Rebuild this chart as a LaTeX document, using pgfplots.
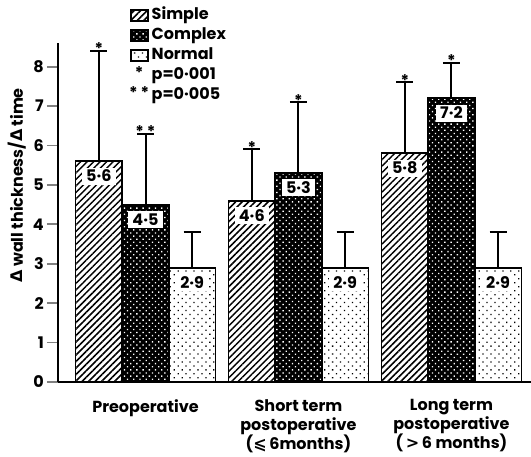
\documentclass[border=0pt]{standalone}
\usepackage{fontspec}
\setmainfont{Poppins}
\newfontfamily\dejavu{DejaVu Sans}
\usepackage{pgfplots}
\usepackage{pgfplotstable}
\pgfplotsset{compat=1.18}
\usetikzlibrary{patterns,patterns.meta}
\newcommand\lf{\fontsize{16bp}{19bp}\selectfont\bfseries}

\pgfplotstableread{
x  sv  se  sl   sst  cv  ce  cl   cst               nv  ne  nl
0  5.6 2.8 5·6  *    4.5 1.8 4·5  *\kern3bp*        2.9 0.9 2·9
1  4.6 1.3 4·6  *    5.3 1.8 5·3  *                 2.9 0.9 2·9
2  5.8 1.8 5·8  *    7.2 0.9 7·2  *                 2.9 0.9 2·9
}\data

\tikzset{
  simplepat/.style={fill=white, postaction={pattern={Lines[angle=45,distance=4.6bp,line width=1.5bp]}, pattern color=black}},
  complexpat/.style={fill=black, postaction={pattern={Dots[angle=45,distance=4.4bp,radius=0.95bp]}, pattern color=white}},
  normalpat/.style={fill=white, postaction={pattern={Dots[angle=45,distance=5.6bp,radius=0.9bp]}, pattern color=black}},
}
\pgfplotsset{
  barlegend/.style={legend image code/.code={\draw[##1] (0bp,-5.5bp) rectangle (17bp,5.5bp);}},
  starlegend/.style={legend image code/.code={\node[font=\lf, inner sep=0pt, anchor=base] at (8.5bp,-3bp) {#1};}},
  barvals/.style={nodes near coords, point meta=explicit symbolic,
    every node near coord/.style={font=\lf, fill=white, inner xsep=4bp, inner ysep=3bp, text height=11bp, text depth=0pt, anchor=north, yshift=-5.5bp}},
  stars/.style={draw=none, mark=none, forget plot, nodes near coords, point meta=explicit symbolic,
    every node near coord/.style={font=\lf, anchor=base, inner sep=0pt, yshift=-4bp}},
}

\begin{document}
\begin{tikzpicture}
\begin{axis}[
  scale only axis, width=473bp, height=339bp,
  at={(0,0)}, anchor=south west,
  xmin=-0.572, xmax=2.52, ymin=0, ymax=8.6,
  axis x line=bottom, axis y line=left,
  axis line style={-, line width=2bp},
  xtick={0,1,2},
  xticklabels={Preoperative, {Short term\\postoperative\\({\dejavu\bfseries ⩽}\,6months)}, {Long term\\postoperative\\(\,{\dejavu\bfseries >}\,6 months)}},
  xticklabel style={align=center, font=\lf, anchor=north, inner sep=0pt, yshift=-6bp},
  xtick style={draw=none},
  ytick={0,1,...,8},
  ytick style={line width=1.8bp},
  major tick length=11bp,
  tick align=outside,
  yticklabel style={font=\lf, inner sep=0pt, xshift=-3bp},
  /pgf/number format/assume math mode=true,
  ylabel={{\dejavu\bfseries Δ} wall thickness/{\dejavu\bfseries Δ} time},
  ylabel style={font=\lf, at={(axis description cs:-0.087,0.58)}, anchor=center},
  clip=false,
  legend style={at={(axis description cs:0.150,1.108)}, anchor=north west, draw=none, fill=none, font=\lf, row sep=2.5bp, inner sep=0pt,
    nodes={inner ysep=1bp, inner xsep=2.5bp, text height=11.5bp, text depth=4bp}},
  legend cell align=left,
  error bars/y dir=plus, error bars/y explicit,
  error bars/error bar style={line width=2bp, black},
  error bars/error mark options={rotate=90, line width=2bp, mark size=8.5bp, black},
]
\addplot[ybar, bar width=0.305, bar shift=0pt, draw=black, line width=1.8bp, simplepat, barvals, barlegend]
  table[x expr=\thisrow{x}-0.305, y=sv, y error=se, meta=sl] {\data};
\addlegendentry{Simple}
\addplot[ybar, bar width=0.305, bar shift=0pt, draw=black, line width=1.8bp, complexpat, barvals, barlegend]
  table[x=x, y=cv, y error=ce, meta=cl] {\data};
\addlegendentry{Complex}
\addplot[ybar, bar width=0.305, bar shift=0pt, draw=black, line width=1.8bp, normalpat, barvals, barlegend]
  table[x expr=\thisrow{x}+0.305, y=nv, y error=ne, meta=nl] {\data};
\addlegendentry{Normal}
% significance stars above the error bar caps
\addplot[stars] table[x expr=\thisrow{x}-0.305, y expr=\thisrow{sv}+\thisrow{se}, meta=sst] {\data};
\addplot[stars] table[x=x, y expr=\thisrow{cv}+\thisrow{ce}, meta=cst] {\data};
\addlegendimage{starlegend=*}
\addlegendentry{p=0·001}
\addlegendimage{starlegend={*\kern3bp*}}
\addlegendentry{p=0·005}
\end{axis}
\pgfresetboundingbox
\path (-58bp,-75bp) rectangle (473bp,382bp);
\end{tikzpicture}
\end{document}
